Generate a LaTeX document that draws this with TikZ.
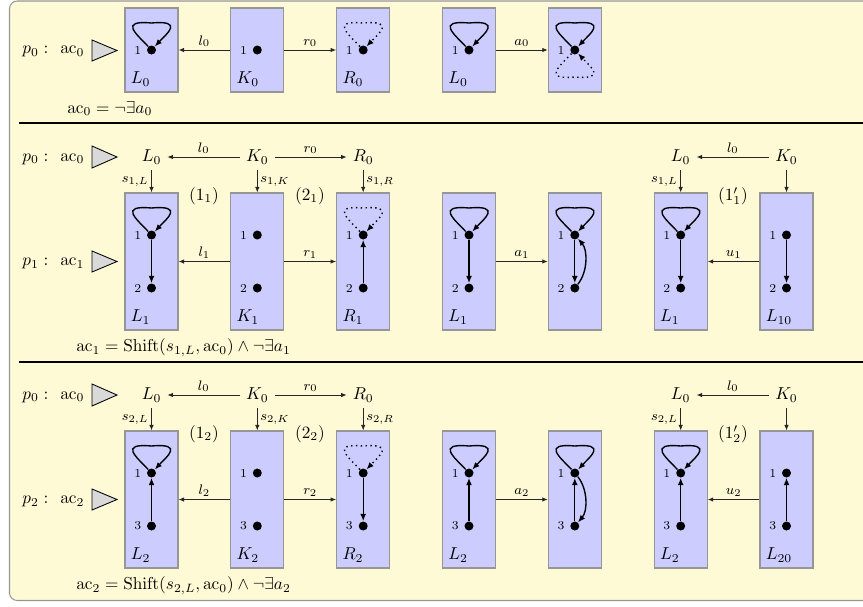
\documentclass[tikz,border=0pt]{standalone}
\usetikzlibrary{arrows.meta,calc}
\definecolor{bgyellow}{RGB}{255,250,214}
\definecolor{framegray}{RGB}{150,150,150}
\definecolor{boxfill}{RGB}{204,204,255}
\definecolor{boxdraw}{RGB}{150,150,150}
\definecolor{trifill}{RGB}{217,217,217}
\newcommand\pxu{0.58pt}
\newcommand\mkloopup[2]{\draw[#1] (#2) .. controls ([shift={(-15,-16)}]#2.center) and ([shift={(-33,-30)}]#2.center) .. ([shift={(0,-27)}]#2.center) .. controls ([shift={(33,-30)}]#2.center) and ([shift={(15,-16)}]#2.center) .. (#2);}
\newcommand\mkloopdown[2]{\draw[#1] (#2) .. controls ([shift={(-15,16)}]#2.center) and ([shift={(-33,30)}]#2.center) .. ([shift={(0,27)}]#2.center) .. controls ([shift={(33,30)}]#2.center) and ([shift={(15,16)}]#2.center) .. (#2);}
\tikzset{
 gboxA/.style={draw=boxdraw, fill=boxfill, line width=0.6pt, minimum width=53*\pxu, minimum height=84*\pxu, inner sep=0pt},
 gboxB/.style={draw=boxdraw, fill=boxfill, line width=0.6pt, minimum width=53*\pxu, minimum height=137*\pxu, inner sep=0pt},
 dot/.style={circle, fill=black, inner sep=0pt, minimum size=9*\pxu},
 num/.style={font=\scriptsize, inner sep=1pt},
 gedge/.style={line width=0.8pt, -{Latex[length=4.2pt,width=3.4pt]}},
 dedge/.style={line width=0.8pt, dotted, -{Latex[length=4.2pt,width=3.4pt]}},
 morph/.style={line width=0.55pt, black!85, -{Latex[length=3.2pt,width=2.6pt]}},
 elbl/.style={font=\footnotesize, inner sep=1.5pt, text=black},
 blbl/.style={anchor=base west, inner sep=0pt},
 trig/.style={draw=black, fill=trifill, line width=0.5pt},
 txt/.style={anchor=base west, inner sep=0pt},
}
\begin{document}
\begin{tikzpicture}[x=0.58pt,y=-0.58pt,label distance=2pt]
\useasboundingbox (0,0) rectangle (863,606);
\clip (0,0) rectangle (863,606);
\draw[draw=framegray, fill=bgyellow, line width=0.6pt, rounded corners=4.5pt] (9.5,1) rectangle (900,600.5);
\draw[line width=0.9pt] (19,123) -- (863,123);
\draw[line width=0.9pt] (19,362) -- (863,362);

% ---------------- Section 1 ----------------
\node[txt] (h1p) at (22,53.5) {$p_0:$};
\node[txt] (h1a) at (60,53.5) {$\mathrm{ac}_0$};
\draw[trig] (92,40) -- (92,61) -- (117,50.5) -- cycle;

\node[gboxA] (L0a) at (151.5,50) {};
\node[gboxA] (K0a) at (257.3,50) {};
\node[gboxA] (R0a) at (363.2,50) {};
\node[gboxA] (L0b) at (469,50) {};
\node[gboxA] (X0) at (574.8,50) {};
\node[blbl] (L0alab) at ([shift={(6,-9)}]L0a.south west) {$L_0$};
\node[blbl] (K0alab) at ([shift={(6,-9)}]K0a.south west) {$K_0$};
\node[blbl] (R0alab) at ([shift={(6,-9)}]R0a.south west) {$R_0$};
\node[blbl] (L0blab) at ([shift={(6,-9)}]L0b.south west) {$L_0$};

\node[dot, label={[num]left:1}] (L0a1) at (151.5,50) {};
\node[dot, label={[num]left:1}] (K0a1) at (257.3,50) {};
\node[dot, label={[num]left:1}] (R0a1) at (363.2,50) {};
\node[dot, label={[num]left:1}] (L0b1) at (469,50) {};
\node[dot, label={[num]left:1}] (X01) at (574.8,50) {};
\mkloopup{gedge}{L0a1}
\mkloopup{dedge}{R0a1}
\mkloopup{gedge}{L0b1}
\mkloopup{gedge}{X01}
\mkloopdown{dedge}{X01}

\draw[morph] (K0a) -- (L0a) node[elbl, midway, above] {$l_0$};
\draw[morph] (K0a) -- (R0a) node[elbl, midway, above] {$r_0$};
\draw[morph] (L0b) -- (X0) node[elbl, midway, above] {$a_0$};
\node[txt] (f0) at (67,113) {$\mathrm{ac}_0=\neg\exists a_0$};

% ---------------- Section 2 ----------------
\node[txt] (h2p) at (22,161) {$p_0:$};
\node[txt] (h2a) at (60,161) {$\mathrm{ac}_0$};
\draw[trig] (92,146) -- (92,168) -- (117,157) -- cycle;
\node[txt] (h3p) at (22,265.5) {$p_1:$};
\node[txt] (h3a) at (60,265.5) {$\mathrm{ac}_1$};
\draw[trig] (92,251) -- (92,272) -- (117,261.5) -- cycle;

\node (tL1) at (151.5,157) {$L_0$};
\node (tK1) at (257.3,157) {$K_0$};
\node (tR1) at (363.2,157) {$R_0$};
\node (tL1r) at (680.7,157) {$L_0$};
\node (tK1r) at (786.5,157) {$K_0$};

\node[gboxB] (L1a) at (151.5,261.5) {};
\node[gboxB] (K1a) at (257.3,261.5) {};
\node[gboxB] (R1a) at (363.2,261.5) {};
\node[gboxB] (L1b) at (469,261.5) {};
\node[gboxB] (X1) at (574.8,261.5) {};
\node[gboxB] (L1c) at (680.7,261.5) {};
\node[gboxB] (L10) at (786.5,261.5) {};
\node[blbl] (L1alab) at ([shift={(6,-9)}]L1a.south west) {$L_1$};
\node[blbl] (K1alab) at ([shift={(6,-9)}]K1a.south west) {$K_1$};
\node[blbl] (R1alab) at ([shift={(6,-9)}]R1a.south west) {$R_1$};
\node[blbl] (L1blab) at ([shift={(6,-9)}]L1b.south west) {$L_1$};
\node[blbl] (L1clab) at ([shift={(6,-9)}]L1c.south west) {$L_1$};
\node[blbl] (L10lab) at ([shift={(6,-9)}]L10.south west) {$L_{10}$};

\draw[morph] (tK1) -- (tL1) node[elbl, midway, above] {$l_0$};
\draw[morph] (tK1) -- (tR1) node[elbl, midway, above] {$r_0$};
\draw[morph] (tK1r) -- (tL1r) node[elbl, midway, above] {$l_0$};
\draw[morph] (tL1) -- (L1a) node[elbl, midway, left] {$s_{1,L}$};
\draw[morph] (tK1) -- (K1a) node[elbl, midway, right] {$s_{1,K}$};
\draw[morph] (tR1) -- (R1a) node[elbl, midway, right] {$s_{1,R}$};
\draw[morph] (tL1r) -- (L1c) node[elbl, midway, left] {$s_{1,L}$};
\draw[morph] (tK1r) -- (L10);
\node (c11) at (204,196) {$(1_1)$};
\node (c21) at (310,196) {$(2_1)$};
\node (c11p) at (733,196) {$(1'_1)$};

\foreach \n/\x in {L1a/151.5,K1a/257.3,R1a/363.2,L1b/469,X1/574.8,L1c/680.7,L10/786.5}{
  \node[dot, label={[num]left:1}] (\n1) at (\x,235) {};
  \node[dot, label={[num]left:2}] (\n2) at (\x,288) {};
}
\mkloopup{gedge}{L1a1}
\draw[gedge] (L1a1) -- (L1a2);
\mkloopup{dedge}{R1a1}
\draw[gedge] (R1a2) -- (R1a1);
\mkloopup{gedge}{L1b1}
\draw[gedge] (L1b1) -- (L1b2);
\mkloopup{gedge}{X11}
\draw[gedge] (X11) -- (X12);
\draw[gedge] (X12) .. controls ([shift={(13,-16)}]X12.center) and ([shift={(13,15)}]X11.center) .. (X11);
\mkloopup{gedge}{L1c1}
\draw[gedge] (L1c1) -- (L1c2);
\draw[gedge] (L101) -- (L102);

\draw[morph] (K1a) -- (L1a) node[elbl, midway, above] {$l_1$};
\draw[morph] (K1a) -- (R1a) node[elbl, midway, above] {$r_1$};
\draw[morph] (L1b) -- (X1) node[elbl, midway, above] {$a_1$};
\draw[morph] (L10) -- (L1c) node[elbl, midway, above] {$u_1$};
\node[txt] (f1) at (76,351.5) {$\mathrm{ac}_1=\mathrm{Shift}(s_{1,L},\mathrm{ac}_0)\wedge\neg\exists a_1$};

% ---------------- Section 3 ----------------
\node[txt] (h4p) at (22,399) {$p_0:$};
\node[txt] (h4a) at (60,399) {$\mathrm{ac}_0$};
\draw[trig] (92,384) -- (92,406) -- (117,395) -- cycle;
\node[txt] (h5p) at (22,503.5) {$p_2:$};
\node[txt] (h5a) at (60,503.5) {$\mathrm{ac}_2$};
\draw[trig] (92,489) -- (92,510) -- (117,499.5) -- cycle;

\node (tL2) at (151.5,395) {$L_0$};
\node (tK2) at (257.3,395) {$K_0$};
\node (tR2) at (363.2,395) {$R_0$};
\node (tL2r) at (680.7,395) {$L_0$};
\node (tK2r) at (786.5,395) {$K_0$};

\node[gboxB] (L2a) at (151.5,499.5) {};
\node[gboxB] (K2a) at (257.3,499.5) {};
\node[gboxB] (R2a) at (363.2,499.5) {};
\node[gboxB] (L2b) at (469,499.5) {};
\node[gboxB] (X2) at (574.8,499.5) {};
\node[gboxB] (L2c) at (680.7,499.5) {};
\node[gboxB] (L20) at (786.5,499.5) {};
\node[blbl] (L2alab) at ([shift={(6,-9)}]L2a.south west) {$L_2$};
\node[blbl] (K2alab) at ([shift={(6,-9)}]K2a.south west) {$K_2$};
\node[blbl] (R2alab) at ([shift={(6,-9)}]R2a.south west) {$R_2$};
\node[blbl] (L2blab) at ([shift={(6,-9)}]L2b.south west) {$L_2$};
\node[blbl] (L2clab) at ([shift={(6,-9)}]L2c.south west) {$L_2$};
\node[blbl] (L20lab) at ([shift={(6,-9)}]L20.south west) {$L_{20}$};

\draw[morph] (tK2) -- (tL2) node[elbl, midway, above] {$l_0$};
\draw[morph] (tK2) -- (tR2) node[elbl, midway, above] {$r_0$};
\draw[morph] (tK2r) -- (tL2r) node[elbl, midway, above] {$l_0$};
\draw[morph] (tL2) -- (L2a) node[elbl, midway, left] {$s_{2,L}$};
\draw[morph] (tK2) -- (K2a) node[elbl, midway, right] {$s_{2,K}$};
\draw[morph] (tR2) -- (R2a) node[elbl, midway, right] {$s_{2,R}$};
\draw[morph] (tL2r) -- (L2c) node[elbl, midway, left] {$s_{2,L}$};
\draw[morph] (tK2r) -- (L20);
\node (c12) at (204,434) {$(1_2)$};
\node (c22) at (310,434) {$(2_2)$};
\node (c12p) at (733,434) {$(1'_2)$};

\foreach \n/\x in {L2a/151.5,K2a/257.3,R2a/363.2,L2b/469,X2/574.8,L2c/680.7,L20/786.5}{
  \node[dot, label={[num]left:1}] (\n1) at (\x,473) {};
  \node[dot, label={[num]left:3}] (\n3) at (\x,526) {};
}
\mkloopup{gedge}{L2a1}
\draw[gedge] (L2a3) -- (L2a1);
\mkloopup{dedge}{R2a1}
\draw[gedge] (R2a1) -- (R2a3);
\mkloopup{gedge}{L2b1}
\draw[gedge] (L2b3) -- (L2b1);
\mkloopup{gedge}{X21}
\draw[gedge] (X23) -- (X21);
\draw[gedge] (X21) .. controls ([shift={(13,16)}]X21.center) and ([shift={(13,-15)}]X23.center) .. (X23);
\mkloopup{gedge}{L2c1}
\draw[gedge] (L2c3) -- (L2c1);
\draw[gedge] (L203) -- (L201);

\draw[morph] (K2a) -- (L2a) node[elbl, midway, above] {$l_2$};
\draw[morph] (K2a) -- (R2a) node[elbl, midway, above] {$r_2$};
\draw[morph] (L2b) -- (X2) node[elbl, midway, above] {$a_2$};
\draw[morph] (L20) -- (L2c) node[elbl, midway, above] {$u_2$};
\node[txt] (f2) at (76,589.5) {$\mathrm{ac}_2=\mathrm{Shift}(s_{2,L},\mathrm{ac}_0)\wedge\neg\exists a_2$};
\end{tikzpicture}
\end{document}
